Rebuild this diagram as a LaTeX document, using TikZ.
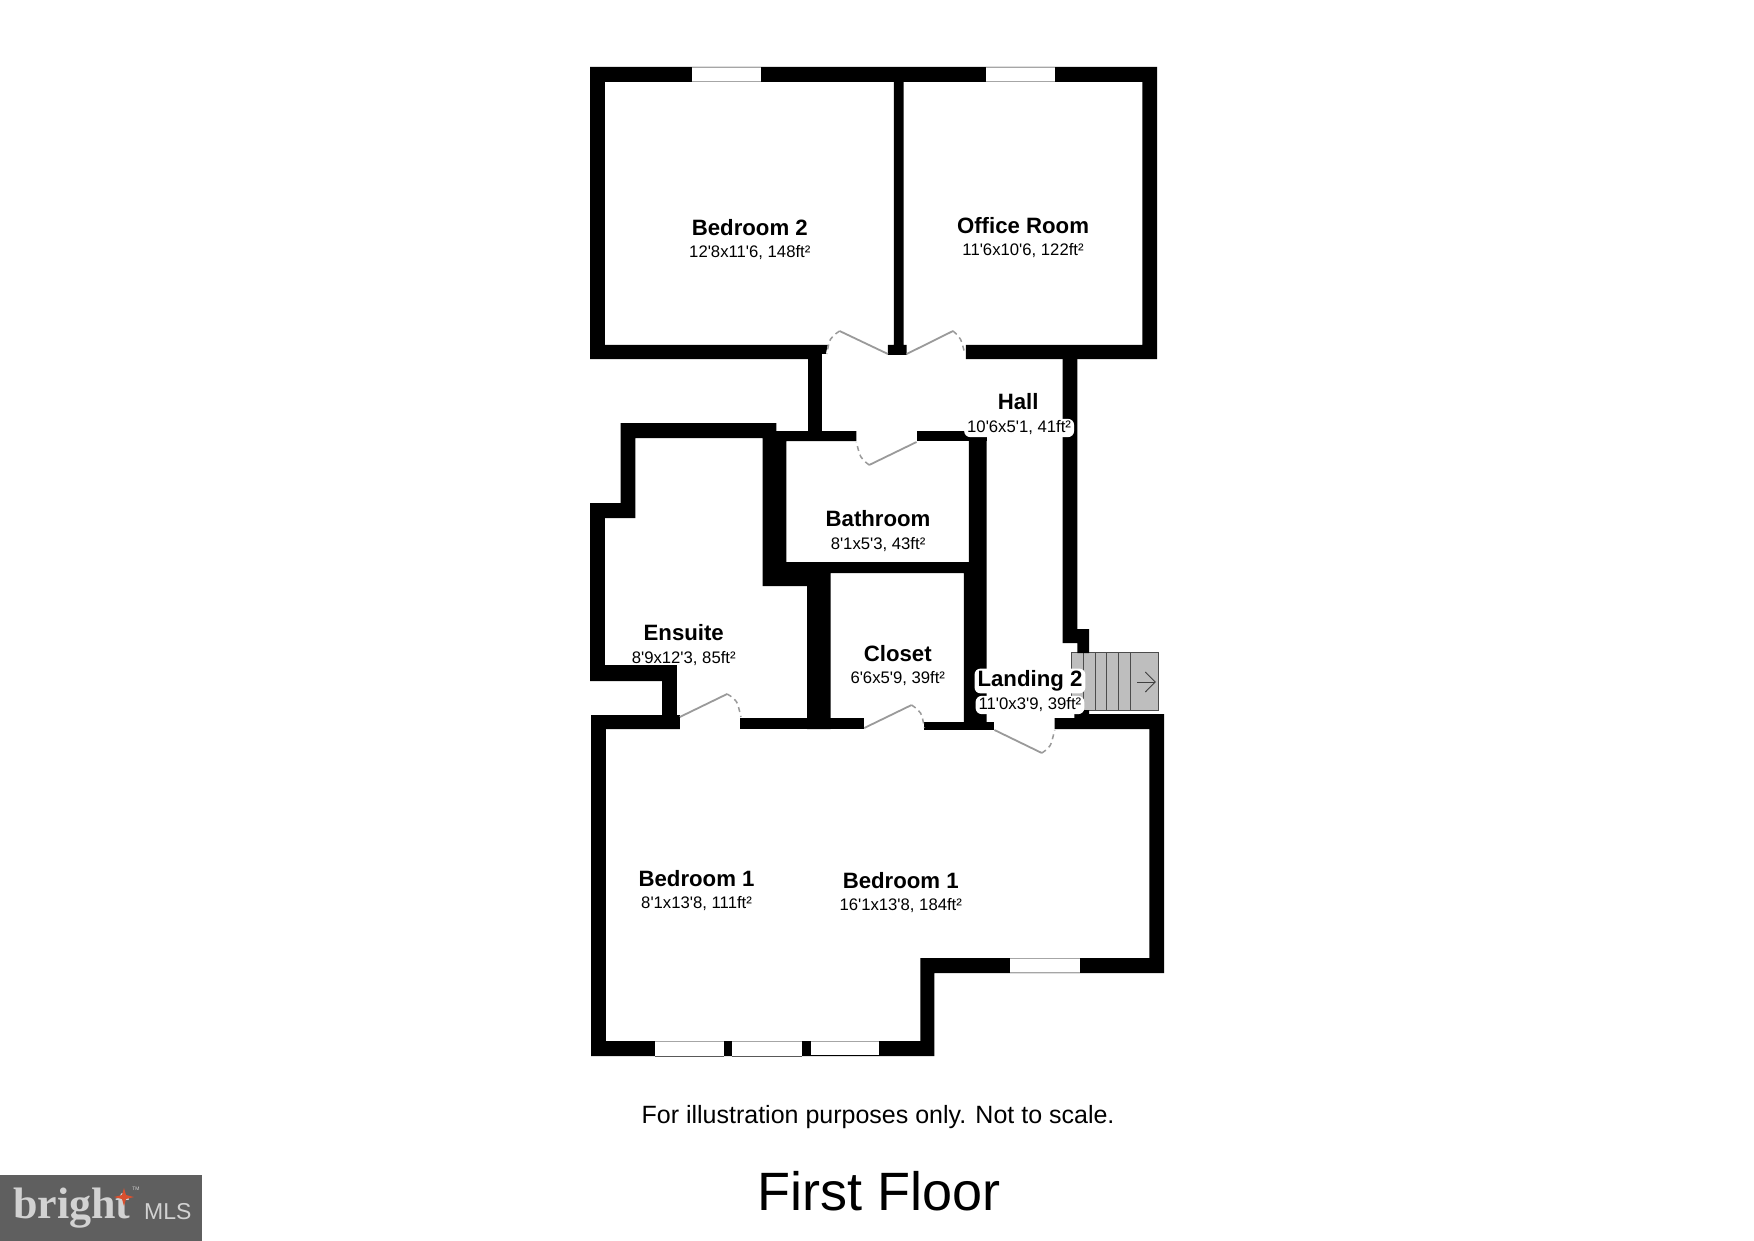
\documentclass[tikz,border=0pt]{standalone}
\usepackage{fontspec}
\newfontfamily\lib{Liberation Sans}
\newfontfamily\libs{Liberation Serif}
\definecolor{doorgray}{HTML}{9A9A9A}
\definecolor{stairgray}{HTML}{BEBEBE}
\definecolor{logogray}{HTML}{5F5F5F}
\definecolor{logotext}{HTML}{D2D2D2}
\definecolor{logostar}{HTML}{D9502E}
\tikzset{
  wall/.style={fill=black,draw=none},
  win/.style={fill=white,draw=none},
  winline/.style={draw=black!35,line width=0.9pt},
  windark/.style={draw=black!65,line width=0.9pt},
  leaf/.style={draw=doorgray,line width=1.8pt},
  swing/.style={draw=doorgray,line width=1.5pt,dash pattern=on 5pt off 4pt},
  stairbox/.style={fill=stairgray,draw=black!70,line width=1pt},
  tread/.style={draw=black!70,line width=1pt},
  roomname/.style={font=\lib\bfseries\fontsize{22.2}{24}\selectfont,inner sep=0pt,text=black},
  roomdim/.style={font=\lib\fontsize{16.7}{18}\selectfont,inner sep=0pt,text=black},
  pill/.style={fill=white,rounded corners=6pt,inner xsep=3pt,inner ysep=2pt},
}
\begin{document}
\begin{tikzpicture}[x=1pt,y=-1pt]
\useasboundingbox (0,0) rectangle (1754,1241);
\fill[white] (0,0) rectangle (1754,1241);

\begin{scope}[x=0.9864pt,xshift=8.04pt]
% stairs
\draw[stairbox] (1078,652) rectangle (1166,710);
\foreach \sx in {1090,1102,1114,1126,1138}{\draw[tread] (\sx,652) -- (\sx,710);}
\draw[draw=black!75,line width=0.9pt] (1145,682) -- (1163,682);
\draw[draw=black!75,line width=0.9pt] (1153,672) -- (1163,682) -- (1153,692);

% upper rooms
\fill[wall] (590,67) -- (1165,67) -- (1165,359) -- (971,359) -- (971,345) -- (1150,345) -- (1150,82) -- (908,82) -- (908,345) -- (911,345) -- (911,355) -- (892,355) -- (892,345) -- (898,345) -- (898,82) -- (605,82) -- (605,345) -- (831,345) -- (829,354) -- (825,354) -- (825,359) -- (590,359) -- cycle;
% hall walls
\fill[wall] (811,355) rectangle (825,436);
\fill[wall] (971,345) rectangle (1000,359);
\fill[wall] (1069,350) -- (1084,350) -- (1084,629) -- (1096,629) -- (1096,653) -- (1084,653) -- (1084,643) -- (1069,643) -- cycle;
% ensuite outline and thick wall
\fill[wall] (779,423) -- (621,423) -- (621,503) -- (590,503) -- (590,681) -- (663,681) -- (663,716) -- (678,716) -- (678,665) -- (605,665) -- (605,518) -- (636,518) -- (636,438) -- (765,438) -- (765,586) -- (810,586) -- (810,729) -- (834,729) -- (834,573) -- (969,573) -- (969,729) -- (992,729) -- (992,435) -- (974,435) -- (974,562) -- (789,562) -- (789,441) -- (860,441) -- (860,431) -- (779,431) -- cycle;
\fill[wall] (921,431) rectangle (992,441);
% bedroom 1
\fill[wall] (591,715) -- (681,715) -- (681,729) -- (606,729) -- (606,1041) -- (925,1041) -- (925,958) -- (1157,958) -- (1157,729) -- (1061,729) -- (1061,718) -- (1081,718) -- (1081,710) -- (1096,710) -- (1096,714) -- (1172,714) -- (1172,973) -- (939,973) -- (939,1056) -- (591,1056) -- cycle;
\fill[wall] (742,718) rectangle (868,729);
\fill[wall] (929,722) rectangle (1000,730);

% windows
\foreach \xa/\xb/\ya/\yb in {693/763/67/82,991/1061/67/82,1016/1087/958/973,656/726/1041/1056,734/805/1041/1056,814/883/1041/1056}{
  \fill[win] (\xa,\ya) rectangle (\xb,\yb);
  \draw[winline] (\xa,\ya) -- (\xb,\ya);
}
\draw[winline] (693,81.5) -- (763,81.5);
\draw[winline] (991,81.5) -- (1061,81.5);
\draw[winline] (1016,972.5) -- (1087,972.5);
\draw[windark] (656,1056) -- (726,1056);
\draw[windark] (734,1056) -- (805,1056);
\draw[draw=black,line width=0.9pt] (814,1055.5) -- (883,1055.5);

% doors
\foreach \hx/\hy/\tx/\ty/\cx/\cy/\ex/\ey in {
  892/354/843/331/833/338/830/354,
  911/354/958/331/966/338/970/354,
  921/442/873/465/864/458/860/442,
  681/717/729/694/739/700/743/717,
  868/728/916/705/926/712/929/728,
  1000/730/1048/753/1057/747/1061/730}{
  \draw[leaf] (\hx,\hy) -- (\tx,\ty);
  \draw[swing] (\tx,\ty) .. controls (\cx,\cy) .. (\ex,\ey);
}

% labels
\node[roomname] (bed2) at (752,227.5) {Bedroom 2};
\node[roomdim] (bed2d) at (752,253) {12'8x11'6, 148ft²};
\node[roomname] (office) at (1029,226) {Office Room};
\node[roomdim] (officed) at (1029,251) {11'6x10'6, 122ft²};
\node[roomname] (hall) at (1024,402) {Hall};
\node[roomdim,pill] (halld) at (1025,428) {10'6x5'1, 41ft²};
\node[roomname] (bath) at (882,518.5) {Bathroom};
\node[roomdim] (bathd) at (882,544.5) {8'1x5'3, 43ft²};
\node[roomname] (ens) at (685,633) {Ensuite};
\node[roomdim] (ensd) at (685,658.5) {8'9x12'3, 85ft²};
\node[roomname] (clo) at (902,654) {Closet};
\node[roomdim] (clod) at (902,679) {6'6x5'9, 39ft²};
\node[roomname,pill] (land) at (1036,681) {Landing 2};
\node[roomdim,pill] (landd) at (1036,705) {11'0x3'9, 39ft²};
\node[roomname] (bed1a) at (698,878.5) {Bedroom 1};
\node[roomdim] (bed1ad) at (698,904) {8'1x13'8, 111ft²};
\node[roomname] (bed1b) at (905,880.5) {Bedroom 1};
\node[roomdim] (bed1bd) at (905,906) {16'1x13'8, 184ft²};

% footer
\node[font=\lib\fontsize{25}{28}\selectfont,inner sep=0pt] (note) at (882,1117) {For illustration purposes only. Not to scale.};
\node[font=\lib\fontsize{54}{60}\selectfont,inner sep=0pt] (title) at (883,1191) {First Floor};
\end{scope}

% logo
\fill[logogray] (0,1175) rectangle (202,1241);
\node[font=\libs\bfseries\fontsize{44}{46}\selectfont,text=logotext,inner sep=0pt,anchor=base west] (brand) at (13,1218) {bright};
\node[font=\lib\fontsize{23}{26}\selectfont,text=logotext,inner sep=0pt,anchor=base west] (mls) at (144,1219) {MLS};
\node[font=\lib\fontsize{5}{6}\selectfont,text=logotext,inner sep=0pt] (tm) at (136,1189) {TM};
\fill[logostar] (124,1188) -- (126,1195) -- (134,1197) -- (126,1199) -- (124,1206) -- (122,1199) -- (114,1197) -- (122,1195) -- cycle;
\end{tikzpicture}
\end{document}
